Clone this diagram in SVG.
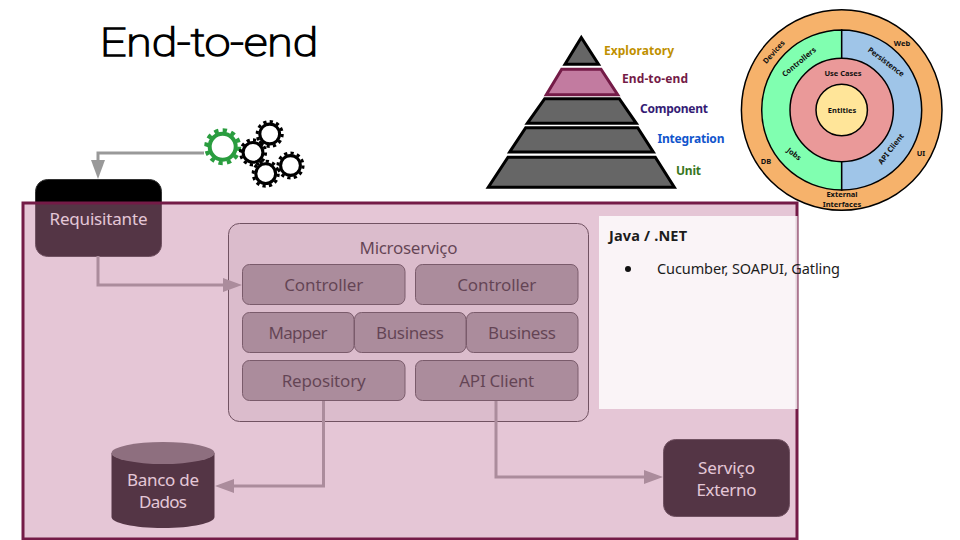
<svg xmlns="http://www.w3.org/2000/svg" width="960" height="540" viewBox="0 0 960 540">
<style>
text{font-family:"Noto Sans","Liberation Sans",sans-serif;text-anchor:middle}
.n{fill:#000;stroke:#333;stroke-width:1}
.box{fill:#999;stroke:#444;stroke-width:1}
.lw{fill:#fff;font-size:17px}
.ld{fill:#1c1c1c;font-size:17px}
.c{fill:none;stroke:#999;stroke-width:3}
.r{stroke:#000;stroke-width:1.5}
.ol{font-size:7.500px;font-weight:700;fill:#111}
.p{fill:#666;stroke:#000;stroke-width:3;stroke-linejoin:miter}
.pl{font-size:12px;font-weight:700;text-anchor:start}
.panel{font-size:14.500px;fill:#1c1c1c;text-anchor:start}
</style>
<defs>
<marker id="ah" markerUnits="userSpaceOnUse" markerWidth="20" markerHeight="16" refX="13" refY="8" orient="auto"><path d="M0 1L19 8L0 15Z" fill="#999"/></marker>
<g id="gear"><circle r="13" fill="#fff" stroke="currentColor" stroke-width="4"/><circle r="16.500" fill="none" stroke="currentColor" stroke-width="4" pathLength="24" stroke-dasharray="1 1"/></g>
</defs>
<g id="title"><text x="209" y="56" style="font-family:Roboto,sans-serif;font-weight:100" font-size="39" stroke="#000" stroke-width="1.600" textLength="218" lengthAdjust="spacingAndGlyphs">End-to-end</text></g>

<g id="gears">
<use href="#gear" transform="translate(222.7 146.7)" color="#2a9d3f"/>
<use href="#gear" transform="translate(269.7 134) scale(.76)" color="#000"/>
<use href="#gear" transform="translate(253 152.4) scale(.76)" color="#000"/>
<use href="#gear" transform="translate(290.500 165.500) scale(.76)" color="#000"/>
<use href="#gear" transform="translate(265.7 173.7) scale(.76)" color="#000"/>
</g>

<g id="requisitante"><rect class="n" x="35.500" y="179.500" width="126" height="77" rx="12"/><text class="lw" x="98.500" y="225" textLength="98">Requisitante</text></g>
<g id="microservico"><rect x="228.500" y="223.500" width="360" height="198" rx="11" fill="#eee" stroke="#333"/><text class="ld" x="408.500" y="254" textLength="98">Microserviço</text></g>
<g id="controller-1"><rect class="box" x="242.500" y="264.500" width="162.500" height="40" rx="7"/><text class="ld" x="323.700" y="291" textLength="79">Controller</text></g>
<g id="controller-2"><rect class="box" x="415.500" y="264.500" width="162.500" height="40" rx="7"/><text class="ld" x="496.700" y="291" textLength="79">Controller</text></g>
<g id="mapper"><rect class="box" x="242.500" y="312.500" width="111.500" height="40" rx="7"/><text class="ld" x="298" y="339" textLength="59">Mapper</text></g>
<g id="business-1"><rect class="box" x="354.500" y="312.500" width="111.500" height="40" rx="7"/><text class="ld" x="410" y="339" textLength="68">Business</text></g>
<g id="business-2"><rect class="box" x="466.500" y="312.500" width="111.500" height="40" rx="7"/><text class="ld" x="522" y="339" textLength="68">Business</text></g>
<g id="repository"><rect class="box" x="242.500" y="360.500" width="162.500" height="40" rx="7"/><text class="ld" x="323.700" y="387" textLength="84">Repository</text></g>
<g id="api-client"><rect class="box" x="415.500" y="360.500" width="162.500" height="40" rx="7"/><text class="ld" x="496.700" y="387" textLength="75">API Client</text></g>
<g id="banco"><path d="M111.500 453V517C111.500 523 134 528 163 528S214.500 523 214.500 517V453Z" fill="#000"/><ellipse cx="163" cy="453" rx="51.500" ry="11" fill="#666"/><text class="lw" x="163" y="486" textLength="72">Banco de</text><text class="lw" x="163" y="508" textLength="48">Dados</text></g>
<g id="servico"><rect class="n" x="663.500" y="439.500" width="126" height="77" rx="12"/><text class="lw" x="726.500" y="474" textLength="57">Serviço</text><text class="lw" x="726.500" y="496" textLength="60">Externo</text></g>

<g id="connectors">
<path class="c" d="M204 153H98V173" marker-end="url(#ah)"/>
<path class="c" d="M98 256V285H236" marker-end="url(#ah)"/>
<path class="c" d="M323.500 401V486H221" marker-end="url(#ah)"/>
<path class="c" d="M496 401V477H657" marker-end="url(#ah)"/>
</g>

<g id="overlay"><rect x="23" y="203" width="774" height="336" fill="#c27ba0" fill-opacity=".43" stroke="#741b47" stroke-width="3"/></g>
<g id="panel"><rect x="599" y="216" width="198.500" height="193" fill="#fff" fill-opacity=".8"/>
<text class="panel" x="609" y="241" font-weight="700" textLength="78">Java / .NET</text>
<circle cx="628" cy="269" r="3" fill="#111"/>
<text class="panel" x="657" y="274" textLength="183">Cucumber, SOAPUI, Gatling</text></g>

<g id="pyramid">
<path class="p" d="M581.300 37.500L565 64.300H598.500Z"/>
<path class="p" d="M561.700 69.300H601L617.700 94.700H546.300Z" style="fill:#c27ba0;stroke:#741b47"/>
<path class="p" d="M544.700 98.700H619.300L636.300 123.300H527.300Z"/>
<path class="p" d="M525.700 127.700H637.700L653.300 152H509.700Z"/>
<path class="p" d="M508 157.300H655.300L674.300 187.300H488.300Z"/>
<text class="pl" x="604" y="54.500" fill="#bf9000" textLength="70">Exploratory</text>
<text class="pl" x="622" y="83" fill="#741b47" textLength="66">End-to-end</text>
<text class="pl" x="640" y="113" fill="#351c75" textLength="68">Component</text>
<text class="pl" x="657.500" y="142.500" fill="#1155cc" textLength="67">Integration</text>
<text class="pl" x="676" y="174.500" fill="#38761d" textLength="25">Unit</text>
</g>

<g id="clean-architecture">
<circle class="r" cx="841.700" cy="110" r="100.300" fill="#f6b26b"/>
<path class="r" d="M841.700 30A80 80 0 0 0 841.700 190Z" fill="#80ffb0"/>
<path class="r" d="M841.700 30A80 80 0 0 1 841.700 190Z" fill="#9fc5e8"/>
<circle class="r" cx="841.700" cy="110" r="51.700" fill="#ea9999"/>
<circle class="r" cx="841.700" cy="110" r="25.700" fill="#ffe599"/>
<text class="ol" x="842" y="113">Entities</text>
<text class="ol" x="843" y="76">Use Cases</text>
<text class="ol" x="902" y="46">Web</text>
<text class="ol" x="921" y="156">UI</text>
<text class="ol" x="766" y="163.500">DB</text>
<text class="ol" x="842" y="197">External</text>
<text class="ol" x="842" y="207">Interfaces</text>
<text class="ol" transform="translate(774 52) rotate(-48)" y="2.500">Devices</text>
<text class="ol" transform="translate(799 62) rotate(-40)" y="2.500">Controllers</text>
<text class="ol" transform="translate(886 62) rotate(37)" y="2.500">Persistence</text>
<text class="ol" transform="translate(794 154) rotate(38)" y="2.500">Jobs</text>
<text class="ol" transform="translate(891 149) rotate(-52)" y="2.500">API Client</text>
</g>
</svg>
